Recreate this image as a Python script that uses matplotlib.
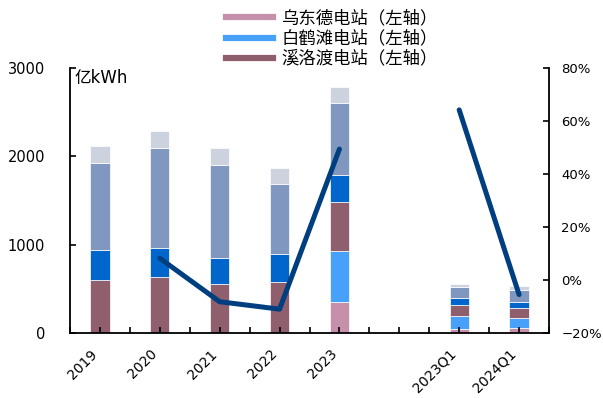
import matplotlib
matplotlib.use("Agg")
import matplotlib.pyplot as plt
import matplotlib.transforms as mtransforms
from matplotlib.lines import Line2D
from matplotlib.ticker import FuncFormatter, MultipleLocator
import numpy as np

plt.rcParams['font.family'] = ['DejaVu Sans', 'Noto Sans CJK SC']
plt.rcParams['axes.unicode_minus'] = True

categories = ["2019", "2020", "2021", "2022", "2023", "", "2023Q1", "2024Q1"]
wudongde = [0, 0, 0, 0, 347, 0, 50, 60]
baihetan = [0, 0, 0, 0, 581, 0, 143, 106]
xiluodu = [600, 637, 555, 581, 555, 0, 129, 120]
xiangjiaba = [340, 329, 297, 317, 306, 0, 75, 61]
sanxia = [980, 1125, 1053, 789, 815, 0, 124, 140]
gezhouba = [200, 196, 193, 181, 184, 0, 31, 45]
growth = [np.nan, 8.2, -8.2, -11.0, 49.4, np.nan, 64.2, -5.5]

series = [
    ("乌东德电站（左轴）", wudongde, "#C68FAA"),
    ("白鹤滩电站（左轴）", baihetan, "#47A1FA"),
    ("溪洛渡电站（左轴）", xiluodu, "#8F5F6E"),
    ("向家坝电站（左轴）", xiangjiaba, "#0066CC"),
    ("三峡电站（左轴）", sanxia, "#8097BF"),
    ("葛洲坝电站（左轴）", gezhouba, "#CDD2DF"),
]

fig = plt.figure(figsize=(6.03, 3.98), dpi=100)
ax = fig.add_axes([70/603, 1-333/398, (549-70)/603, (333-68)/398])
x = np.arange(len(categories))
bottom = np.zeros(len(categories))
for name, vals, color in series:
    v = np.array(vals, dtype=float)
    ax.bar(x, v, width=0.32, bottom=bottom, color=color, edgecolor='white', linewidth=0.5)
    bottom += v

ax.set_ylim(0, 3000)
ax.set_xlim(-0.5, 7.5)
ax.set_yticks([0, 1000, 2000, 3000])
ax.set_xticks(x)
ax.set_xticklabels(categories, rotation=45, ha='right', fontsize=10)
offset = mtransforms.ScaledTranslation(5/100, 0, fig.dpi_scale_trans)
for lbl in ax.get_xticklabels():
    lbl.set_transform(lbl.get_transform() + offset)
ax.xaxis.set_minor_locator(MultipleLocator(0.5))
ax.tick_params(axis='x', which='both', direction='in', length=4, width=1.2, pad=10)
ax.tick_params(axis='y', direction='in', length=4, width=1.2, labelsize=10.5, pad=18)
for s in ['left', 'bottom']:
    ax.spines[s].set_linewidth(1.3)
ax.spines['top'].set_visible(False)
ax.spines['right'].set_visible(False)
ax.text(0.01, 0.962, "亿kWh", transform=ax.transAxes, fontsize=12, va='center', ha='left')

ax2 = ax.twinx()
ax2.plot(x, growth, color="#003F7F", lw=3.6, solid_capstyle='round', solid_joinstyle='round')
ax2.set_ylim(-20, 80)
ax2.set_yticks([-20, 0, 20, 40, 60, 80])
ax2.yaxis.set_major_formatter(FuncFormatter(lambda v, p: f"{int(v)}%".replace("-", "\u2212")))
ax2.tick_params(axis='y', direction='in', length=4, width=1.2, labelsize=9.5, pad=9)
ax2.spines['right'].set_linewidth(1.3)
ax2.spines['top'].set_visible(False)
ax2.spines['left'].set_visible(False)
ax2.spines['bottom'].set_visible(False)

handles = [Line2D([0], [0], color=c, lw=4.5) for _, _, c in series[:3]]
labels = [n for n, _, _ in series[:3]]
fig.legend(handles, labels, loc='upper left', bbox_to_anchor=(216/603, 1.0), frameon=False,
           handlelength=2.76, handletextpad=0.46, labelspacing=0.12,
           borderaxespad=0.15, prop={'family': ['Noto Sans CJK SC'], 'size': 12.5})

fig.savefig("out.png", dpi=100)
